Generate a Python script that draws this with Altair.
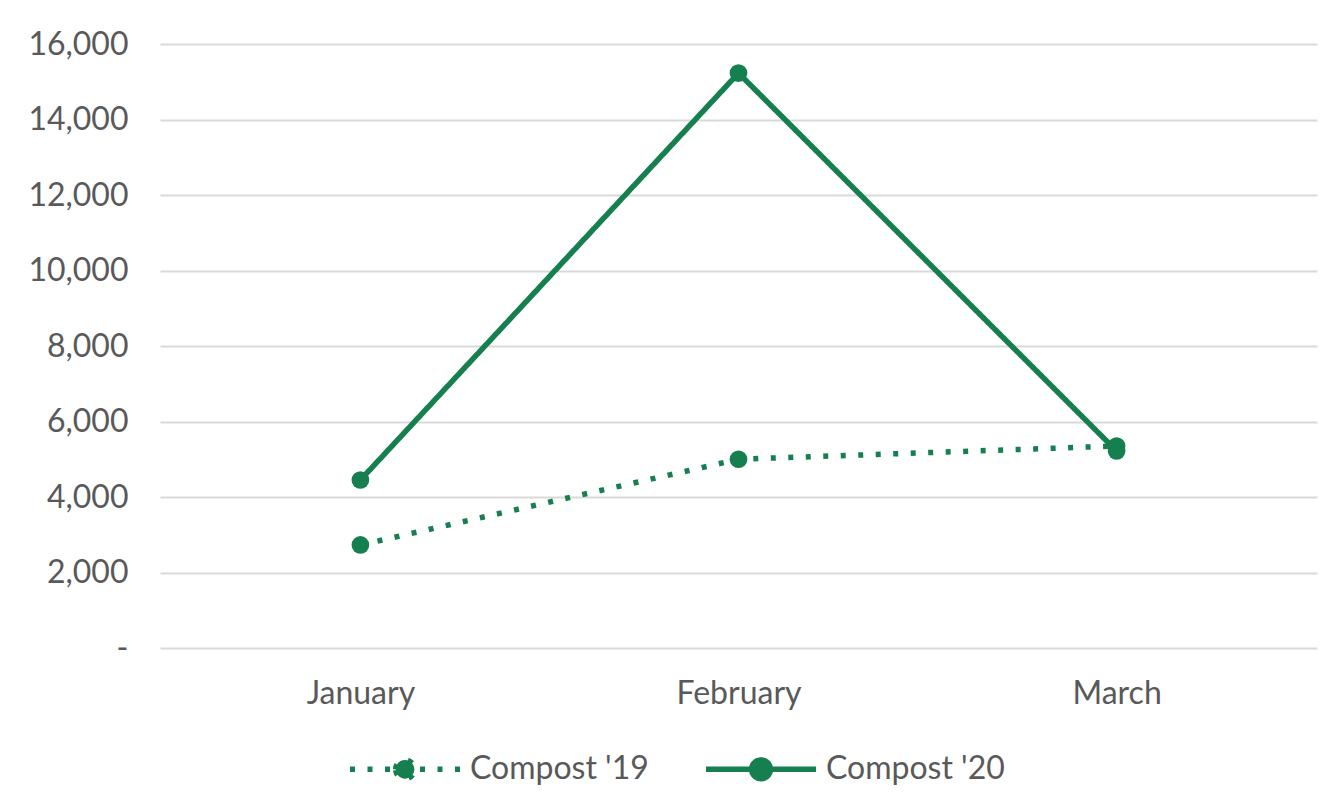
import altair as alt
import pandas as pd

months = ["January", "February", "March"]
series = ["Compost '19", "Compost '20"]
compost_19 = [2730, 5000, 5350]
compost_20 = [4450, 15230, 5220]
y_ticks = [0, 2000, 4000, 6000, 8000, 10000, 12000, 14000, 16000]

GREEN = "#167f4f"
TEXT = "#595959"
FONT = "Lato"

rows = []
for name, vals in zip(series, [compost_19, compost_20]):
    for m, v in zip(months, vals):
        rows.append({"month": m, "series": name, "value": v})
df = pd.DataFrame(rows)

legend_symbol = "M-1,0H1M-0.17,0A0.17,0.17,0,1,1,0.17,0A0.17,0.17,0,1,1,-0.17,0Z"

base = alt.Chart(df).encode(
    x=alt.X(
        "month:N",
        sort=months,
        scale=alt.Scale(type="point", padding=0.53),
        axis=alt.Axis(title=None, domain=False, ticks=False, grid=False, labelPadding=30,
                      labelFontSize=32, labelColor=TEXT, labelFont=FONT, labelAngle=0),
    ),
    y=alt.Y(
        "value:Q",
        scale=alt.Scale(domain=[0, 16000], nice=False),
        axis=alt.Axis(title=None, domain=False, ticks=False, values=y_ticks,
                      labelExpr="datum.value == 0 ? '-\u00a0\u00a0\u00a0' : format(datum.value, ',')",
                      labelPadding=32, labelFontSize=32, labelColor=TEXT, labelFont=FONT,
                      gridColor="#d9d9d9", gridWidth=2),
    ),
)

lines = base.mark_line(strokeWidth=5.5, color=GREEN, strokeCap="butt").encode(
    strokeDash=alt.StrokeDash(
        "series:N",
        sort=series,
        scale=alt.Scale(domain=series, range=[[5, 12.5], [1, 0]]),
        legend=alt.Legend(
            title=None, orient="none", direction="horizontal",
            legendX=187, legendY=667,
            symbolType=legend_symbol, symbolSize=12100, symbolStrokeWidth=5.5,
            symbolStrokeColor=GREEN, symbolFillColor=GREEN,
            labelFontSize=32, labelColor=TEXT, labelFont=FONT, labelLimit=400,
            labelOffset=7, columnPadding=46, symbolOpacity=1,
        ),
    )
)

points = base.mark_point(filled=True, size=314, opacity=1, color=GREEN, shape="circle")

chart = (lines + points).properties(
    width=1157, height=604,
    background="white",
    autosize=alt.AutoSizeParams(type="none"),
    padding={"left": 152, "top": 36, "right": 10, "bottom": 143},
).configure_view(stroke=None)

chart.save("out.html", embed_options={"renderer": "svg", "actions": False})
